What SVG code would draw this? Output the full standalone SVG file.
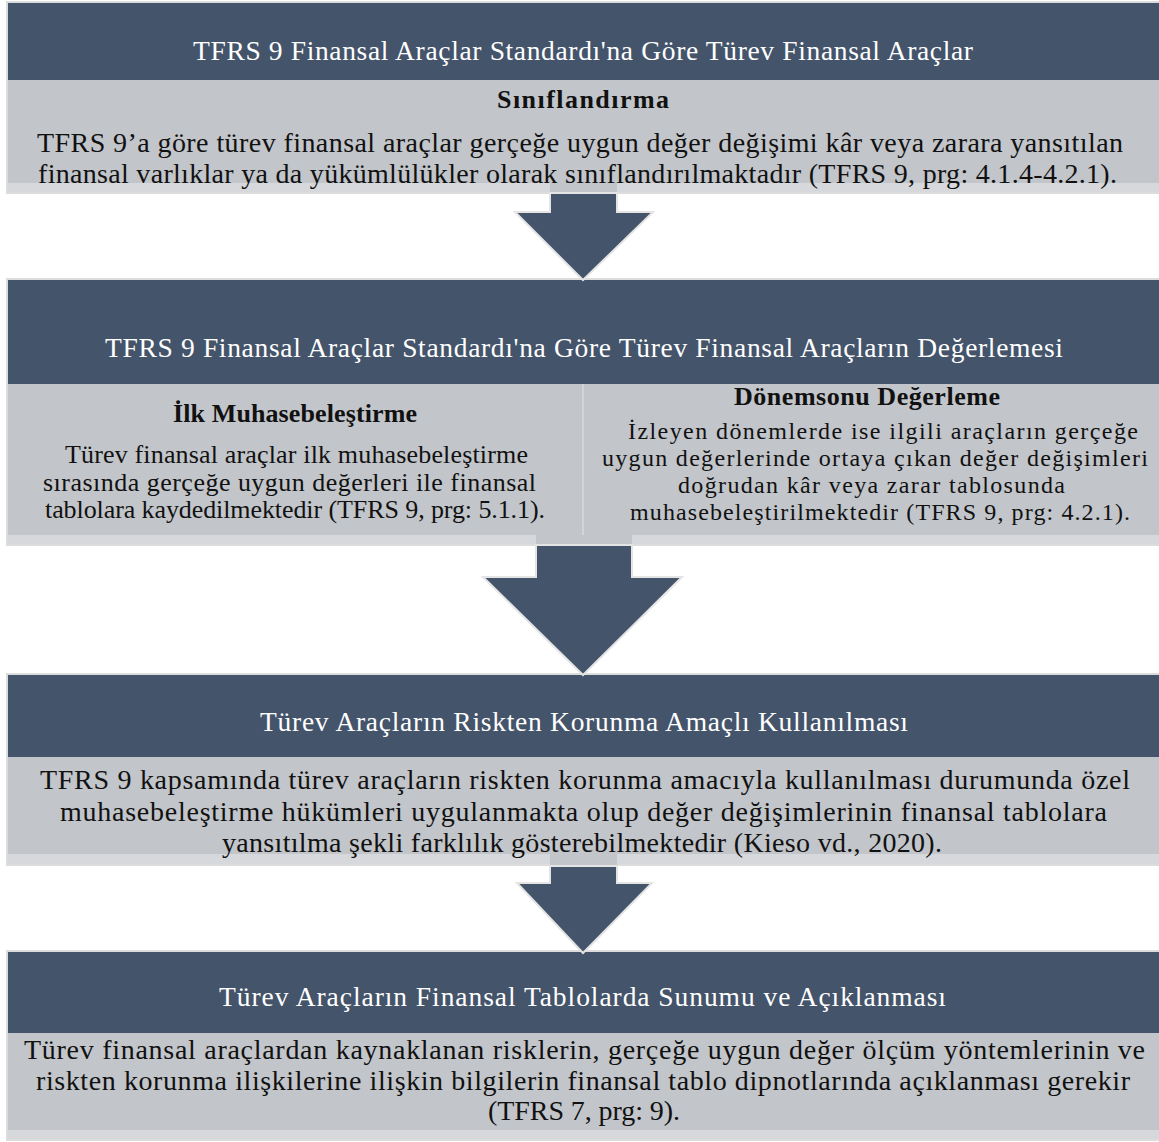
<svg xmlns="http://www.w3.org/2000/svg" width="1159" height="1142" viewBox="0 0 1159 1142">
<style>
text{font-family:"Liberation Serif","Times New Roman",serif;}
.hd{fill:#44546A;}
.bd{fill:#C2C5CA;}
.st{fill:#D6D8DB;}
.ol{fill:none;stroke:#DCDCDC;stroke-width:2;}
.ht{fill:#FFFFFF;font-size:27.5px;}
.bt{fill:#111111;font-size:28px;}
.ct{fill:#111111;font-size:26px;}
.cr{fill:#111111;font-size:24px;}
.tt{fill:#111111;font-size:26px;font-weight:bold;}
.arr{fill:#44546A;stroke:#E4E4E4;stroke-width:2;stroke-linejoin:miter;}
.sh{fill:#C2C5CA;}
.dv{stroke:#D3D5D8;stroke-width:2;}
</style>
<rect width="1159" height="1142" fill="#FFFFFF"/>

<g id="box1">
<rect class="hd" x="8" y="3" width="1152" height="77"/>
<rect class="bd" x="8" y="80" width="1152" height="103"/>
<rect class="st" x="8" y="183" width="1152" height="9"/>
<rect class="ol" x="7" y="2" width="1154" height="191"/>
<text class="ht" x="193" y="60" textLength="780">TFRS 9 Finansal Araçlar Standardı'na Göre Türev Finansal Araçlar</text>
<text class="tt" x="497" y="108" textLength="172">Sınıflandırma</text>
<text class="bt" x="37" y="152" textLength="1086">TFRS 9’a göre türev finansal araçlar gerçeğe uygun değer değişimi kâr veya zarara yansıtılan</text>
<text class="bt" x="38" y="183" textLength="1079">finansal varlıklar ya da yükümlülükler olarak sınıflandırılmaktadır (TFRS 9, prg: 4.1.4-4.2.1).</text>
</g>

<g id="box2">
<rect class="hd" x="8" y="280" width="1152" height="104"/>
<rect class="bd" x="8" y="384" width="1152" height="151"/>
<rect class="st" x="8" y="535" width="1152" height="9"/>
<line class="dv" x1="583" y1="384" x2="583" y2="544"/>
<rect class="ol" x="7" y="279" width="1154" height="266"/>
<text class="ht" x="105" y="357" textLength="958">TFRS 9 Finansal Araçlar Standardı'na Göre Türev Finansal Araçların Değerlemesi</text>
<g id="box2-left">
<text class="tt" x="173" y="422" textLength="244">İlk Muhasebeleştirme</text>
<text class="ct" x="65" y="463" textLength="463">Türev finansal araçlar ilk muhasebeleştirme</text>
<text class="ct" x="43" y="491" textLength="493">sırasında gerçeğe uygun değerleri ile finansal</text>
<text class="ct" x="45" y="518" textLength="500">tablolara kaydedilmektedir (TFRS 9, prg: 5.1.1).</text>
</g>
<g id="box2-right">
<text class="tt" x="734" y="405" textLength="266">Dönemsonu Değerleme</text>
<text class="cr" x="628" y="439" textLength="510">İzleyen dönemlerde ise ilgili araçların gerçeğe</text>
<text class="cr" x="602" y="466" textLength="546">uygun değerlerinde ortaya çıkan değer değişimleri</text>
<text class="cr" x="678" y="493" textLength="387">doğrudan kâr veya zarar tablosunda</text>
<text class="cr" x="630" y="520" textLength="500">muhasebeleştirilmektedir (TFRS 9, prg: 4.2.1).</text>
</g>
</g>

<g id="box3">
<rect class="hd" x="8" y="675" width="1152" height="82"/>
<rect class="bd" x="8" y="757" width="1152" height="97"/>
<rect class="st" x="8" y="854" width="1152" height="10"/>
<rect class="ol" x="7" y="674" width="1154" height="191"/>
<text class="ht" x="260" y="731" textLength="648">Türev Araçların Riskten Korunma Amaçlı Kullanılması</text>
<text class="bt" x="40" y="789" textLength="1090">TFRS 9 kapsamında türev araçların riskten korunma amacıyla kullanılması durumunda özel</text>
<text class="bt" x="60" y="821" textLength="1047">muhasebeleştirme hükümleri uygulanmakta olup değer değişimlerinin finansal tablolara</text>
<text class="bt" x="222" y="852" textLength="720">yansıtılma şekli farklılık gösterebilmektedir (Kieso vd., 2020).</text>
</g>

<g id="box4">
<rect class="hd" x="8" y="952" width="1152" height="81"/>
<rect class="bd" x="8" y="1033" width="1152" height="97"/>
<rect class="st" x="8" y="1130" width="1152" height="9"/>
<rect class="ol" x="7" y="951" width="1154" height="189"/>
<text class="ht" x="219" y="1006" textLength="727">Türev Araçların Finansal Tablolarda Sunumu ve Açıklanması</text>
<text class="bt" x="24" y="1059" textLength="1121">Türev finansal araçlardan kaynaklanan risklerin, gerçeğe uygun değer ölçüm yöntemlerinin ve</text>
<text class="bt" x="36" y="1090" textLength="1094">riskten korunma ilişkilerine ilişkin bilgilerin finansal tablo dipnotlarında açıklanması gerekir</text>
<text class="bt" x="488" y="1120" textLength="192">(TFRS 7, prg: 9).</text>
</g>

<g id="connectors">
<rect class="sh" x="550" y="183" width="67" height="10"/>
<polygon class="arr" points="550,193 617,193 617,212 653,212 583,280 515,212 550,212"/>
<rect class="sh" x="536" y="535" width="96" height="10"/>
<polygon class="arr" points="536,545 632,545 632,577 682,577 583,675 483,577 536,577"/>
<rect class="sh" x="550" y="854" width="67" height="12"/>
<polygon class="arr" points="550,866 617,866 617,883 652,883 583,953 517,883 550,883"/>
</g>
</svg>
